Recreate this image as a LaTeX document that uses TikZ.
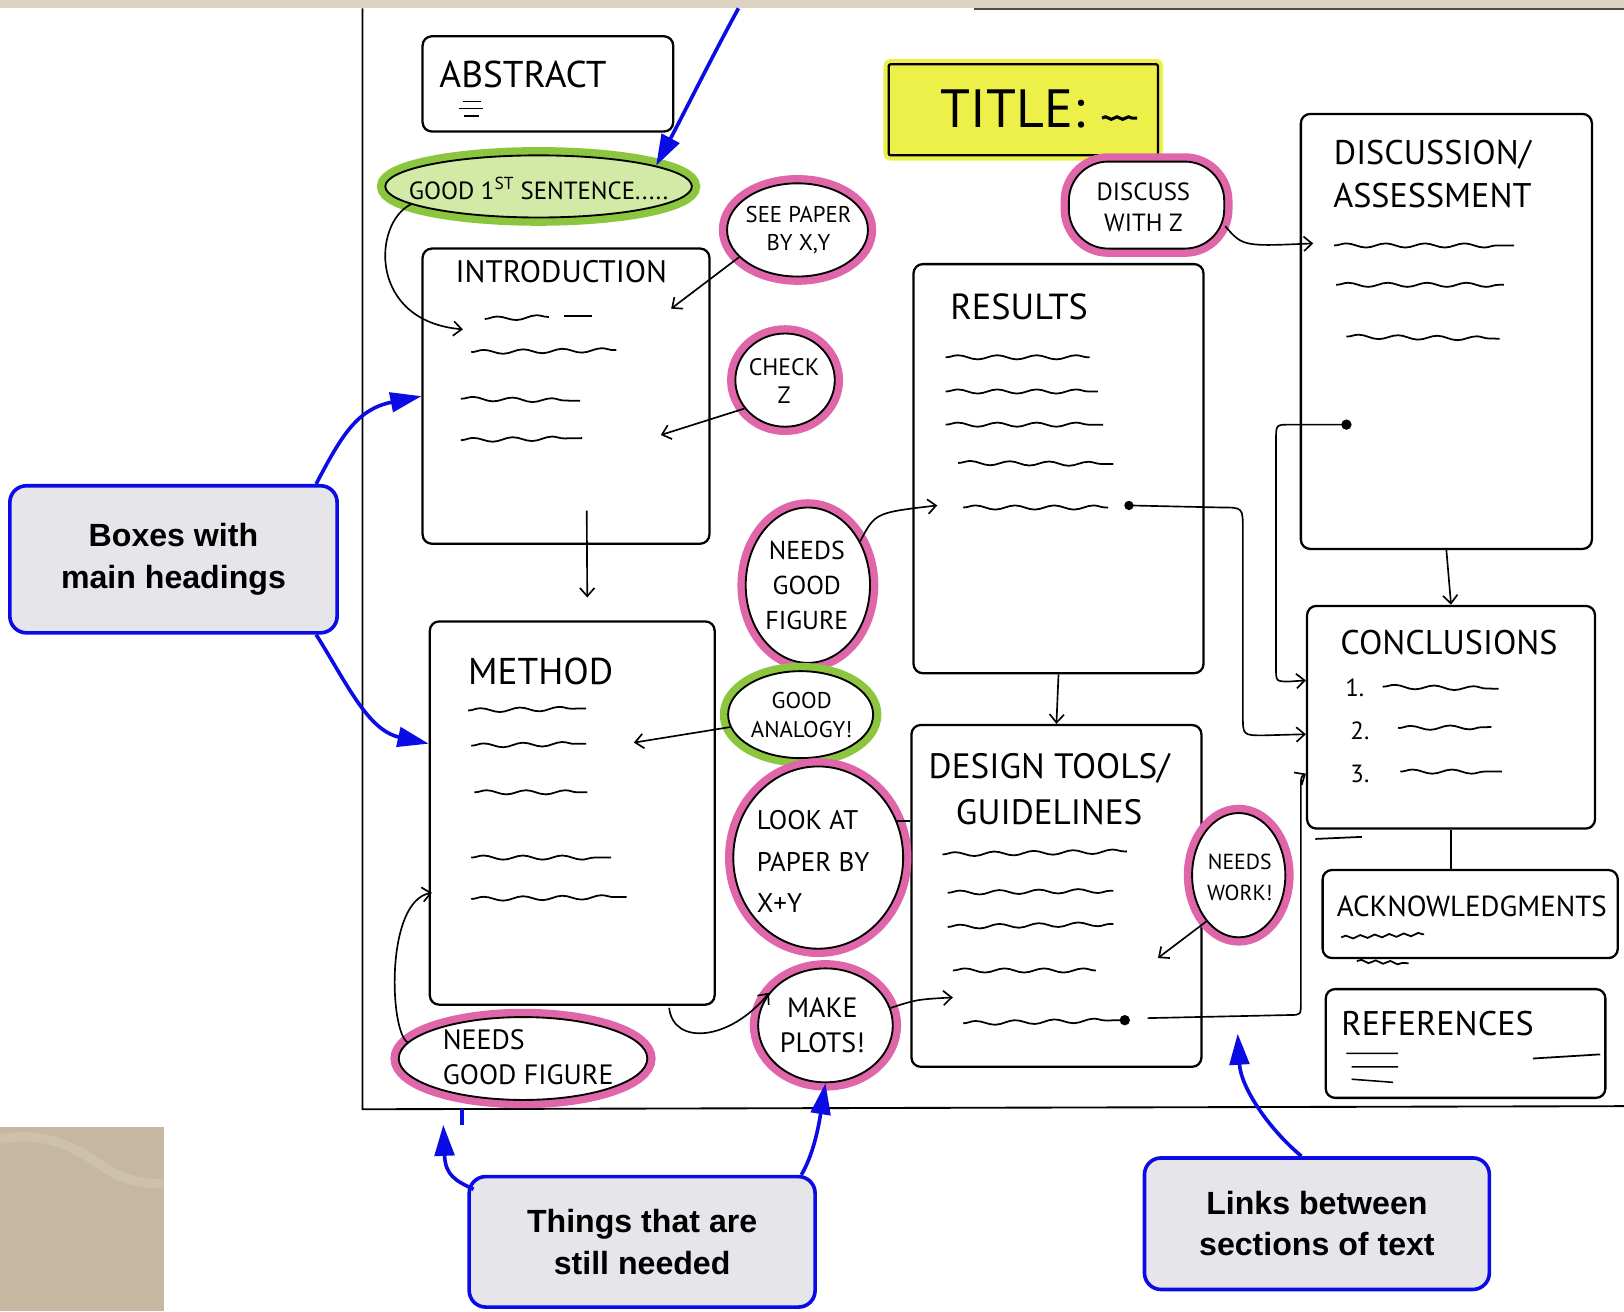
\documentclass[tikz,border=0pt]{standalone}
\usepackage{fontspec}
\setmainfont{Liberation Sans}
\newfontfamily\hand{PT Sans}
\newfontfamily\callfont{Liberation Sans}
\usetikzlibrary{arrows.meta,decorations.pathmorphing,shapes.geometric,calc}
\definecolor{pinkhl}{HTML}{E066AA}
\definecolor{greenhl}{HTML}{8CC63F}
\definecolor{greenfill}{HTML}{D3EAA6}
\definecolor{yellowhl}{HTML}{EEF04A}
\definecolor{callblue}{HTML}{0B0BE6}
\definecolor{callfill}{HTML}{E6E6EA}
\definecolor{beigelight}{HTML}{DCD3C2}
\definecolor{beigedark}{HTML}{C5B7A1}
\definecolor{beigeband}{HTML}{CEC1AC}
\begin{document}
\begin{tikzpicture}[x=1pt,y=-1pt,
  box/.style={draw, line width=2.2pt, rounded corners=9pt, fill=white, inner sep=0pt},
  blob/.style={ellipse, draw, line width=1.8pt, fill=white, inner sep=0pt},
  pinkblob/.style={blob, preaction={draw=pinkhl, line width=16pt}},
  greenblob/.style={blob, fill=greenfill, preaction={draw=greenhl, line width=16pt}},
  hwt/.style 2 args={font=\hand\fontsize{#1}{#2}\selectfont, align=center, inner sep=0pt},
  sq/.style={line width=1.7pt, decorate, decoration={snake, segment length=38pt, amplitude=2pt}},
  harr/.style={draw, line width=1.6pt, -{Straight Barb[length=8pt,width=14pt,line width=1.6pt]}},
  barr/.style={draw=callblue, line width=3.5pt, -{Triangle[length=30pt,width=19pt]}},
  callout/.style={draw=callblue, line width=3.5pt, fill=callfill, rounded corners=16pt, align=center, inner sep=0pt,
     font=\callfont\bfseries\fontsize{31}{40}\selectfont}
]
\useasboundingbox (0,0) rectangle (1568,1266);
% background decoration
\fill[beigelight] (0,0) rectangle (1568,8);
\draw[black!70, line width=2pt] (940,9) -- (1568,9);
\fill[beigedark] (0,1088) rectangle (158,1266);
\draw[beigeband, line width=9pt] (0,1100) .. controls (40,1092) and (70,1105) .. (100,1127) .. controls (120,1140) and (140,1143) .. (158,1143);
% page frame
\draw[line width=1.8pt] (350,8) -- (350,1071) -- (1568,1068);

% ---------- boxes ----------
\node[box, minimum width=242pt, minimum height=92pt] (abstract) at (529,81) {};
\node[hwt={36}{40}] (abstractT) at (505,72) {ABSTRACT};
\draw[line width=1.4pt] (447,98) -- (464,98) (443,105) -- (466,105) (448,112) -- (462,112);

\node[box, rounded corners=2pt, fill=yellowhl, minimum width=260pt, minimum height=88pt,
      preaction={draw=yellowhl, line width=10pt}] (title) at (988,106) {};
\node[hwt={52}{56}] (titleT) at (978,105) {TITLE:};
\draw[line width=3pt, decorate, decoration={snake, segment length=11pt, amplitude=1.2pt}] (1064,114) -- (1098,114);

\node[box, minimum width=277pt, minimum height=285pt] (intro) at (546.5,382.5) {};
\node[hwt={30}{34}] (introT) at (542,262) {INTRODUCTION};

\node[box, minimum width=275pt, minimum height=370pt] (method) at (552.5,785) {};
\node[hwt={36}{40}] (methodT) at (522,648) {METHOD};

\node[box, minimum width=280pt, minimum height=395pt] (results) at (1022,452.5) {};
\node[hwt={35}{40}] (resultsT) at (984,296) {RESULTS};

\node[box, minimum width=281pt, minimum height=420pt] (discussion) at (1396.5,320) {};
\node[hwt={33}{42}] (discussionT) at (1383,168) {DISCUSSION/\\ASSESSMENT};

\node[box, minimum width=280pt, minimum height=330pt] (design) at (1020,865) {};
\node[hwt={34}{44}] (designT) at (1013,762) {DESIGN TOOLS/\\GUIDELINES};

\node[box, minimum width=278pt, minimum height=215pt] (conclusions) at (1401,692.5) {};
\node[hwt={33}{36}] (conclT) at (1399,620) {CONCLUSIONS};
\node[hwt={24}{26}] (c1T) at (1308,664) {1.};
\node[hwt={24}{26}] (c2T) at (1313,706) {2.};
\node[hwt={24}{26}] (c3T) at (1313,747) {3.};

\node[box, minimum width=285pt, minimum height=85pt] (ack) at (1419.5,882.5) {};
\node[hwt={28}{30}] (ackT) at (1421,875) {ACKNOWLEDGMENTS};

\node[box, minimum width=270pt, minimum height=105pt] (refs) at (1415,1007.5) {};
\node[hwt={33}{36}] (refsT) at (1388,988) {REFERENCES};

% ---------- highlighted notes ----------
\node[greenblob, minimum width=296pt, minimum height=60pt] (good1st) at (520,180) {};
\node[hwt={24}{28}] (good1stT) at (520,182) {GOOD 1\textsuperscript{ST} SENTENCE.....};
\node[pinkblob, minimum width=136pt, minimum height=90pt] (seepaper) at (770,222) {};
\node[hwt={22}{27}] (seepaperT) at (771,222) {SEE PAPER\\BY X,Y};
\node[pinkblob, minimum width=96pt, minimum height=90pt] (checkz) at (758,367) {};
\node[hwt={23}{27}] (checkzT) at (757,368) {CHECK\\Z};
\node[pinkblob, minimum width=120pt, minimum height=150pt] (needsfig) at (780,565) {};
\node[hwt={25}{34}] (needsfigT) at (779,565) {NEEDS\\GOOD\\FIGURE};
\node[greenblob, fill=white, minimum width=140pt, minimum height=84pt] (analogy) at (773,690) {};
\node[hwt={22}{28}] (analogyT) at (774,690) {GOOD\\ANALOGY!};
\node[pinkblob, minimum width=164pt, minimum height=176pt] (lookat) at (790,828) {};
\node[hwt={26}{40}, align=left] (lookatT) at (785,832) {LOOK AT\\PAPER BY\\X+Y};
\node[pinkblob, minimum width=130pt, minimum height=110pt] (makeplots) at (797,990) {};
\node[hwt={27}{34}] (makeplotsT) at (794,990) {MAKE\\PLOTS!};
\node[pinkblob, minimum width=240pt, minimum height=80pt] (needsfig2) at (505,1022) {};
\node[hwt={27}{34}, align=left] (needsfig2T) at (510,1021) {NEEDS\\GOOD FIGURE};
\node[pinkblob, shape=rectangle, rounded corners=38pt, minimum width=150pt, minimum height=84pt] (discussz) at (1107,198) {};
\node[hwt={24}{30}] (discusszT) at (1104,200) {DISCUSS\\WITH Z};
\node[pinkblob, minimum width=90pt, minimum height=120pt] (needswork) at (1196,845) {};
\node[hwt={21}{30}] (needsworkT) at (1197,847) {NEEDS\\WORK!};

% ---------- squiggle text lines ----------
\draw[sq] (468,308) -- (530,306);
\draw[line width=1.7pt] (545,305) -- (572,305);
\draw[sq] (455,340) -- (595,338);
\draw[sq] (445,385) -- (560,387);
\draw[sq] (445,425) -- (562,423);

\draw[sq] (452,686) -- (566,684);
\draw[sq] (455,720) -- (566,718);
\draw[sq] (458,765) -- (567,765);
\draw[sq] (455,828) -- (590,828);
\draw[sq] (455,868) -- (605,866);

\draw[sq] (913,345) -- (1052,345);
\draw[sq] (913,378) -- (1060,378);
\draw[sq] (913,410) -- (1065,410);
\draw[sq] (925,447) -- (1075,448);
\draw[sq] (930,490) -- (1070,490);

\draw[sq] (1288,237) -- (1462,237);
\draw[sq] (1290,275) -- (1452,275);
\draw[sq] (1300,325) -- (1448,327);

\draw[sq] (910,825) -- (1088,822);
\draw[sq] (915,862) -- (1075,860);
\draw[sq] (915,895) -- (1075,892);
\draw[sq] (920,937) -- (1058,937);
\draw[sq] (930,988) -- (1082,985);

\draw[sq] (1335,663) -- (1447,665);
\draw[sq] (1350,703) -- (1440,702);
\draw[sq] (1352,745) -- (1450,745);

\draw[sq, decoration={snake, segment length=14pt, amplitude=1.5pt}] (1295,905) -- (1375,902);
\draw[sq, decoration={snake, segment length=14pt, amplitude=1.5pt}] (1310,928) -- (1360,930);
\draw[line width=1.5pt] (1300,1017) -- (1350,1017) (1305,1030) -- (1350,1030) (1305,1042) -- (1345,1045);
\draw[line width=1.7pt] (1480,1022) -- (1545,1018);
\draw[line width=1.7pt] (1270,810) -- (1315,808);

% ---------- black hand connectors ----------
\coordinate (iL1) at (447,318);
\draw[harr] (good1st.188) .. controls (360,215) and (355,310) .. (iL1);
\coordinate (iS) at (648,298);
\draw[harr] (seepaper.205) -- (iS);
\coordinate (iC) at (638,420);
\draw[harr] (checkz.215) -- (iC);
\draw[harr] ($(intro.south)+(20,-33)$) -- ($(method.north)+(14.5,-22)$);
\coordinate (rA) at (905,488);
\draw[harr] (needsfig.40) .. controls (845,495) .. (rA);
\coordinate (mA) at (612,717);
\draw[harr] (analogy.190) -- (mA);
\draw[line width=1.6pt] (lookat.25) -- (design.west |- lookat.25);
\draw[harr] ($(method.south east)+(-45,2)$) .. controls (650,1010) and (705,1005) .. (makeplots.150);
\coordinate (mL) at (417,862);
\draw[harr] (needsfig2.172) .. controls (376,995) and (372,870) .. (mL);
\coordinate (dM) at (920,963);
\draw[harr] (makeplots.15) .. controls (885,965) .. (dM);
\draw[harr] (results.south) -- (design.north);
\coordinate (dZ) at (1268,235);
\draw[harr] (discussz.-15) .. controls (1200,238) .. (dZ);

\coordinate (rDot) at (1090,488);
\fill (rDot) circle (4.5pt);
\coordinate (c2) at ($(conclusions.north west)+(0,125)$);
\draw[harr] (rDot) -- (1180,490) .. controls (1200,490) .. (1200,512) -- (1200,690) .. controls (1200,710) .. (1220,710) -- (c2);

\coordinate (dDot) at (1300,410);
\fill (dDot) circle (5pt);
\coordinate (c1) at ($(conclusions.north west)+(0,73)$);
\draw[harr] (dDot) -- (1245,410) .. controls (1232,410) .. (1232,425) -- (1232,645) .. controls (1232,658) .. (1245,658) -- (c1);

\coordinate (gDot) at (1086,985);
\fill (gDot) circle (5pt);
\coordinate (c3) at ($(conclusions.north west)+(0,163)$);
\draw[harr] ($(gDot)+(22,-2)$) -- (1245,980) .. controls (1256,980) .. (1256,968) -- (1256,765) .. controls (1256,750) .. (c3);

\coordinate (nW) at (1118,925);
\draw[harr] (needswork.235) -- (nW);
\draw[harr] (discussion.south) -- (conclusions.north);
\draw[line width=1.6pt] (conclusions.south) -- (conclusions.south |- ack.north);

% ---------- blue callouts ----------
\node[callout, minimum width=316pt, minimum height=142pt] (boxesC) at (167.5,540) {Boxes with\\main headings};
\node[callout, minimum width=334pt, minimum height=126pt] (things) at (620,1199) {Things that are\\still needed};
\node[callout, minimum width=333pt, minimum height=127pt] (links) at (1271.5,1181.5) {Links between\\sections of text};

\coordinate (topin) at (713,8);
\draw[barr] (topin) .. controls (690,50) and (660,110) .. (good1st.10);
\draw[barr] ($(boxesC.north east)+(-22,0)$) .. controls (330,420) and (345,395) .. (intro.west);
\coordinate (mW) at ($(method.north west)!0.32!(method.south west)$);
\draw[barr] ($(boxesC.south east)+(-22,0)$) .. controls (335,660) and (355,705) .. (mW);
\coordinate (thA) at (428,1086);
\draw[barr] ($(things.north west)+(6,14)$) .. controls (440,1140) and (430,1135) .. (thA);
\draw[callblue, line width=3.5pt] (446,1071) -- (446,1086);
\draw[barr] ($(things.north east)+(-15,0)$) .. controls (785,1115) and (790,1090) .. (makeplots.south);
\coordinate (lkA) at (1195,998);
\draw[barr] ($(links.north)+(-15,0)$) .. controls (1225,1090) and (1198,1050) .. (lkA);
\end{tikzpicture}
\end{document}
